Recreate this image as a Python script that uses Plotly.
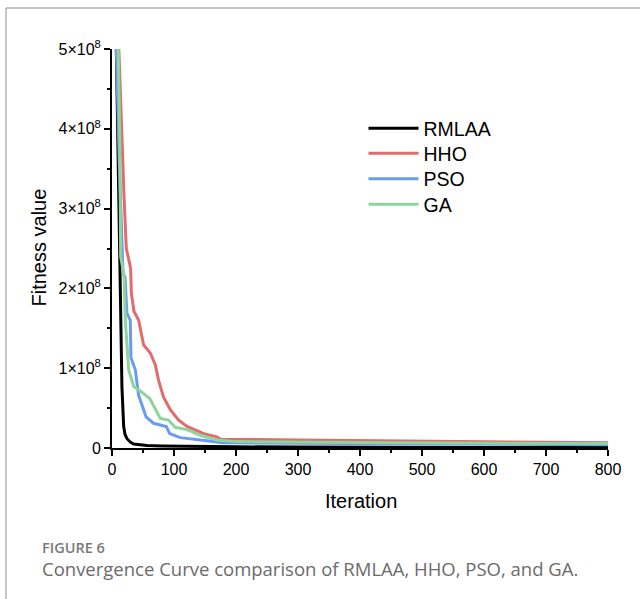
import plotly.graph_objects as go

# ---------------- data ----------------
rmlaa_iter = [7, 13, 14.5, 16, 18.8, 21, 24, 30, 35, 45, 56, 80, 120, 200, 300, 400, 500, 600, 700, 800]
rmlaa_val = [5.0, 2.3, 1.6, 0.77, 0.27, 0.17, 0.12, 0.07, 0.05, 0.04, 0.03, 0.025, 0.02, 0.015, 0.012, 0.01, 0.008, 0.007, 0.006, 0.005]

hho_iter = [11, 15.3, 19.4, 23.1, 30.1, 31.2, 35.5, 43, 51, 61.8, 69.9, 75, 83, 94, 107.5, 121, 148, 169, 175, 300, 450, 600, 800]
hho_val = [5.0, 3.98, 3.15, 2.50, 2.25, 1.94, 1.71, 1.60, 1.29, 1.19, 1.04, 0.85, 0.64, 0.48, 0.35, 0.27, 0.18, 0.14, 0.11, 0.10, 0.09, 0.075, 0.065]

pso_iter = [7, 11.8, 17.7, 21, 24, 27, 29.5, 30.6, 37.6, 43, 55, 67, 87.6, 93, 110, 153, 169, 178, 300, 500, 800]
pso_val = [5.0, 3.57, 2.19, 2.14, 1.69, 1.64, 1.60, 1.13, 0.98, 0.66, 0.39, 0.31, 0.27, 0.18, 0.13, 0.09, 0.07, 0.065, 0.06, 0.05, 0.04]

ga_iter = [10, 12.4, 14, 19.4, 21.5, 26.9, 35, 43, 60.8, 78, 91, 102, 121, 142, 169, 200, 400, 600, 800]
ga_val = [5.0, 3.98, 2.40, 2.15, 1.60, 0.98, 0.77, 0.73, 0.62, 0.37, 0.35, 0.26, 0.23, 0.16, 0.10, 0.08, 0.07, 0.06, 0.055]

SCALE = 1e8
series_names = ["RMLAA", "HHO", "PSO", "GA"]
series_colors = ["#000000", "#E06C6C", "#6A9BEE", "#8ED49C"]

y_tickvals = [0, 1e8, 2e8, 3e8, 4e8, 5e8]
y_ticktext = ["0", "1×10<sup>8</sup>", "2×10<sup>8</sup>", "3×10<sup>8</sup>", "4×10<sup>8</sup>", "5×10<sup>8</sup>"]
x_tickvals = [0, 100, 200, 300, 400, 500, 600, 700, 800]

FONT = "Arial, Liberation Sans, sans-serif"


def px_x(p):
    return (p - 112) / 496


def px_y(p):
    return (448 - p) / 399


fig = go.Figure()
all_data = [(rmlaa_iter, rmlaa_val), (hho_iter, hho_val), (pso_iter, pso_val), (ga_iter, ga_val)]
legend_ids = ["legend", "legend2", "legend3", "legend4"]
legend_centers = [128.5, 153.5, 179, 204.5]
for i in range(4):
    xs, ys = all_data[i]
    fig.add_trace(go.Scatter(
        x=xs, y=[v * SCALE for v in ys], mode="lines", name=series_names[i],
        line=dict(color=series_colors[i], width=3), legend=legend_ids[i],
    ))

layout_legends = {}
for i, lid in enumerate(legend_ids):
    layout_legends[lid] = dict(
        x=px_x(363.5), y=px_y(legend_centers[i]), xanchor="left", yanchor="middle",
        bgcolor="rgba(0,0,0,0)", font=dict(size=19.5, family=FONT, color="black"),
        itemwidth=50,
    )

fig.update_layout(
    width=640, height=599,
    margin=dict(l=112, r=32, t=49, b=151),
    plot_bgcolor="white", paper_bgcolor="white",
    font=dict(family=FONT, color="black", size=16),
    showlegend=True,
    **layout_legends,
)
fig.update_xaxes(
    range=[0, 800], tickvals=x_tickvals, showgrid=False, zeroline=False,
    showline=True, linecolor="black", linewidth=2,
    ticks="outside", ticklen=6, tickwidth=1.5, tickcolor="black",
    tickfont=dict(size=16, family=FONT),
    minor=dict(ticks="outside", ticklen=3, tickwidth=1.5, tickcolor="black", dtick=50, showgrid=False),
)
fig.update_yaxes(
    range=[0, 5e8], tickvals=y_tickvals, ticktext=y_ticktext, showgrid=False, zeroline=False,
    showline=True, linecolor="black", linewidth=2,
    ticks="outside", ticklen=6, tickwidth=1.5, tickcolor="black",
    tickfont=dict(size=16, family=FONT), ticklabelstandoff=0,
    minor=dict(ticks="outside", ticklen=3, tickwidth=1.5, tickcolor="black",
               tickvals=[0.5e8, 1.5e8, 2.5e8, 3.5e8, 4.5e8], showgrid=False),
)

fig.add_annotation(text="Fitness value", x=px_x(38.5), y=px_y(248), xref="paper", yref="paper",
                   xanchor="center", yanchor="middle",
                   textangle=-90, showarrow=False, font=dict(size=20, family=FONT, color="black"))
fig.add_annotation(text="Iteration", x=px_x(361), y=px_y(501), xref="paper", yref="paper",
                   xanchor="center", yanchor="middle",
                   showarrow=False, font=dict(size=20, family=FONT, color="black"))
fig.add_annotation(text="FIGURE 6", x=px_x(40), y=px_y(547), xref="paper", yref="paper",
                   xanchor="left", yanchor="middle", showarrow=False,
                   font=dict(size=14.5, family="Open Sans, sans-serif", color="#7a7a7a", weight=600))
fig.add_annotation(text="Convergence Curve comparison of RMLAA, HHO, PSO, and GA.",
                   x=px_x(40), y=px_y(568), xref="paper", yref="paper",
                   xanchor="left", yanchor="middle", showarrow=False,
                   font=dict(size=18.5, family="Open Sans, sans-serif", color="#6b6b6b"))

# frame around figure panel
fig.add_shape(type="line", xref="paper", yref="paper", x0=px_x(6), x1=px_x(641), y0=px_y(8), y1=px_y(8),
              line=dict(color="#8c8c8c", width=1))
fig.add_shape(type="line", xref="paper", yref="paper", x0=px_x(6), x1=px_x(6), y0=px_y(8), y1=px_y(600),
              line=dict(color="#8c8c8c", width=1))

fig.write_html("out.html")
